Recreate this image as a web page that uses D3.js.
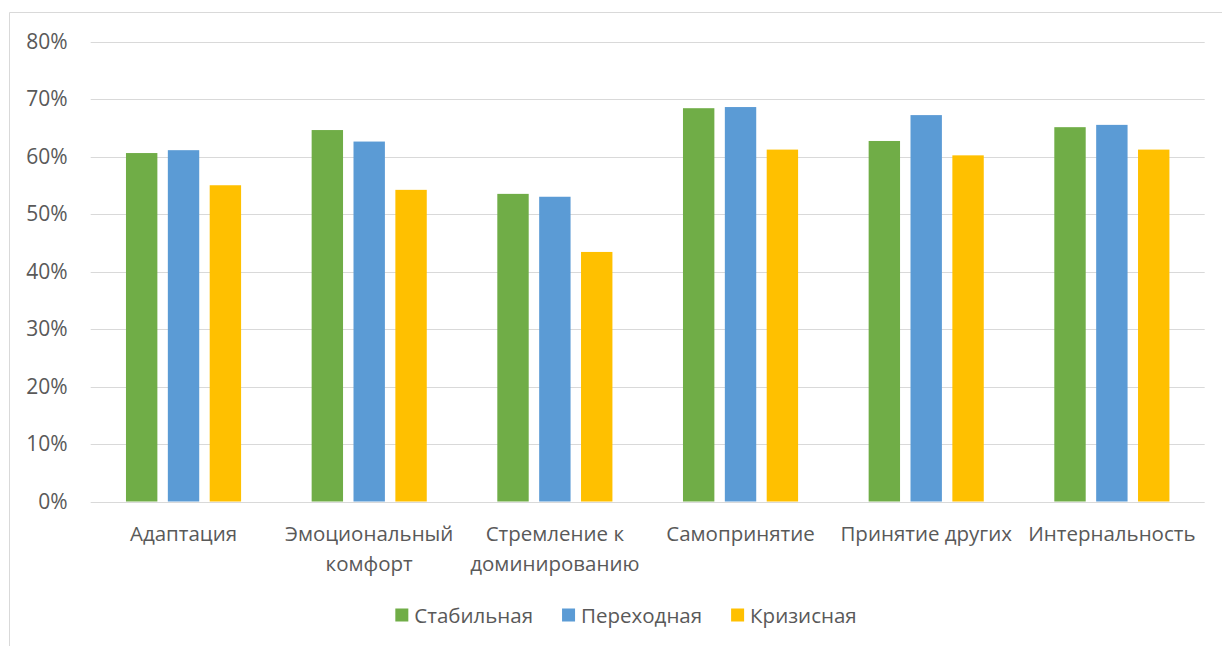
<!DOCTYPE html>
<html><head><meta charset="utf-8">
<script src="https://cdn.jsdelivr.net/npm/d3@7"></script>
<style>
html,body{margin:0;padding:0;background:#fff;}
svg{display:block;}
text{font-family:"Open Sans","Noto Sans",sans-serif;fill:#595959;}
</style></head>
<body>
<svg id="c" width="1222" height="646"></svg>
<script>
const categories = ["Адаптация","Эмоциональный комфорт","Стремление к доминированию","Самопринятие","Принятие других","Интернальность"];
const seriesNames = ["Стабильная","Переходная","Кризисная"];
const stable     = [0.606,0.646,0.535,0.684,0.627,0.651];
const transition = [0.611,0.626,0.530,0.686,0.672,0.655];
const crisis     = [0.550,0.542,0.434,0.612,0.602,0.612];
const colors = ["#70AD47","#5B9BD5","#FFC000"];
const yTicks = [0,0.1,0.2,0.3,0.4,0.5,0.6,0.7,0.8];

const series = [stable, transition, crisis];
const svg = d3.select("#c");
const W = 1222, H = 646;
const m = {left:90.7, right:1204.7, top:41.5, bottom:501.5};

// frame
svg.append("path").attr("d",`M9.5,${H} V12.5 H${W}`).attr("fill","none").attr("stroke","#d9d9d9").attr("stroke-width",1);

const x0 = d3.scaleBand().domain(categories).range([m.left,m.right]).paddingInner(0.38).paddingOuter(0.19);
const x1 = d3.scaleBand().domain(seriesNames).range([0,x0.bandwidth()]).paddingInner(0.25);
const y = d3.scaleLinear().domain([0,0.8]).range([m.bottom,m.top]);

// gridlines
svg.append("g").selectAll("line").data(yTicks).join("line")
  .attr("x1",m.left).attr("x2",m.right)
  .attr("y1",d=>Math.round(y(d))+0.5).attr("y2",d=>Math.round(y(d))+0.5)
  .attr("stroke","#d9d9d9").attr("stroke-width",1);

// y axis labels
const yAxis = d3.axisLeft(y).tickValues(yTicks).tickFormat(d3.format(".0%")).tickSize(0).tickPadding(0);
const gy = svg.append("g").attr("transform",`translate(67.5,0)`).call(yAxis);
gy.select(".domain").remove();
gy.selectAll("text").style("font-size","21px").style("fill","#595959").attr("font-family",null);

// bars
const groups = svg.append("g").selectAll("g").data(categories).join("g")
  .attr("transform",d=>`translate(${x0(d)},0)`);
groups.selectAll("rect").data((c,i)=>seriesNames.map((s,j)=>({s,v:series[j][i],j})))
  .join("rect")
  .attr("x",d=>x1(d.s)).attr("width",x1.bandwidth())
  .attr("y",d=>y(d.v)).attr("height",d=>y(0)-y(d.v))
  .attr("fill",d=>colors[d.j]);

// category labels with wrapping
const labelG = svg.append("g");
const fs = 20.5;
categories.forEach(c=>{
  const cx = x0(c)+x0.bandwidth()/2;
  const t = labelG.append("text").attr("x",cx).attr("y",533).attr("text-anchor","middle")
    .attr("dominant-baseline","central").style("font-size",fs+"px");
  const words = c.split(" ");
  let lines=[], cur=[];
  const probe = labelG.append("text").style("font-size",fs+"px");
  words.forEach(w=>{
    const test = cur.concat([w]).join(" ");
    probe.text(test);
    if (cur.length && probe.node().getComputedTextLength() > x0.step()) { lines.push(cur.join(" ")); cur=[w]; }
    else cur.push(w);
  });
  lines.push(cur.join(" "));
  probe.remove();
  lines.forEach((l,k)=>t.append("tspan").attr("x",cx).attr("dy",k===0?0:30).text(l));
});

// legend
const leg = svg.append("g");
let lx = 0;
seriesNames.forEach((s,i)=>{
  const g = leg.append("g");
  g.append("rect").attr("x",0).attr("y",-6.5).attr("width",13).attr("height",13).attr("fill",colors[i]);
  const t = g.append("text").attr("x",19).attr("y",0).attr("dominant-baseline","central").style("font-size","20.5px").text(s);
  const w = 19 + t.node().getComputedTextLength();
  g.attr("transform",`translate(${lx},0)`);
  lx += w + 29;
});
const legW = lx - 29;
leg.attr("transform",`translate(${626 - legW/2},615)`);
</script>
</body></html>
